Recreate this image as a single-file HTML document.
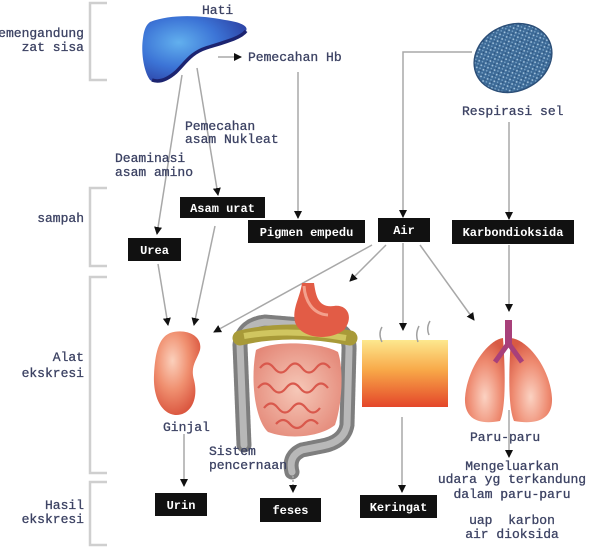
<!DOCTYPE html>
<html><head><meta charset="utf-8"><style>
html,body{margin:0;padding:0;background:#fff;}
svg{display:block;}
.t{font-family:"Liberation Mono",monospace;font-size:13px;fill:#3c4263;stroke:#3c4263;stroke-width:0.3;white-space:pre;}
.b{font-family:"Liberation Mono",monospace;font-size:12px;font-weight:bold;fill:#fff;text-anchor:middle;}
.ln{stroke:#a8a8a8;stroke-width:1.5;fill:none;}
.br{stroke:#cfcfcf;stroke-width:2.5;fill:none;}
</style></head><body>
<svg width="600" height="555" viewBox="0 0 600 555" xmlns="http://www.w3.org/2000/svg" xml:space="preserve">
<defs>
<marker id="a" markerWidth="8" markerHeight="8" refX="7" refY="4" orient="auto" markerUnits="userSpaceOnUse"><path d="M0,0 L8,4 L0,8z" fill="#111"/></marker>
<radialGradient id="liv" cx="0.35" cy="0.4" r="0.75"><stop offset="0" stop-color="#62b0ee"/><stop offset="0.5" stop-color="#3c74d6"/><stop offset="1" stop-color="#2a3a9c"/></radialGradient>
<pattern id="sp" width="5" height="5" patternUnits="userSpaceOnUse"><rect width="5" height="5" fill="#3d6b98"/><circle cx="1.2" cy="1.2" r="0.9" fill="#a4c4de"/><circle cx="3.8" cy="3.4" r="0.8" fill="#7fa8cc"/><circle cx="3.5" cy="0.8" r="0.5" fill="#1f3f66"/></pattern>
<radialGradient id="kid" cx="0.4" cy="0.35" r="0.7"><stop offset="0" stop-color="#fbd0bc"/><stop offset="0.5" stop-color="#f09070"/><stop offset="1" stop-color="#d8503a"/></radialGradient>
<linearGradient id="skin" x1="0" y1="0" x2="0" y2="1"><stop offset="0" stop-color="#fde88e"/><stop offset="0.45" stop-color="#f8a848"/><stop offset="1" stop-color="#e4462a"/></linearGradient>
<radialGradient id="lung" cx="0.5" cy="0.7" r="0.7"><stop offset="0" stop-color="#fbd2c2"/><stop offset="0.6" stop-color="#ee8a70"/><stop offset="1" stop-color="#d85a44"/></radialGradient>
<radialGradient id="si" cx="0.5" cy="0.5" r="0.6"><stop offset="0" stop-color="#f6c8b8"/><stop offset="1" stop-color="#e48878"/></radialGradient>
</defs>

<!-- brackets -->
<path class="br" d="M107,3 L90,3 L90,80 L107,80"/>
<path class="br" d="M107,188 L90,188 L90,266 L107,266"/>
<path class="br" d="M107,277 L90,277 L90,473 L107,473"/>
<path class="br" d="M107,482 L90,482 L90,545 L107,545"/>

<!-- left labels -->
<text class="t" x="84" y="37" text-anchor="end">emengandung</text>
<text class="t" x="84" y="51" text-anchor="end">zat sisa</text>
<text class="t" x="84" y="222" text-anchor="end">sampah</text>
<text class="t" x="84" y="361" text-anchor="end">Alat</text>
<text class="t" x="84" y="377" text-anchor="end">ekskresi</text>
<text class="t" x="84" y="509" text-anchor="end">Hasil</text>
<text class="t" x="84" y="523" text-anchor="end">ekskresi</text>

<!-- liver -->
<path d="M150,22 C170,14 200,15 225,20 C240,22 249,26 246,31 C241,38 225,42 206,48 C191,53 186,62 176,72 C166,82 156,84 150,80 C143,70 141,50 143,38 C144,30 146,25 150,22Z" fill="url(#liv)"/>
<path d="M152,80 C160,83 168,79 176,72 C186,62 191,53 206,48 C225,42 241,38 246,31" stroke="#1c2470" stroke-width="3.5" fill="none"/>
<text class="t" x="202" y="14">Hati</text>

<!-- cell -->
<ellipse cx="513" cy="58" rx="40" ry="33" transform="rotate(-25 513 58)" fill="url(#sp)" stroke="#2c4f78" stroke-width="1.5"/>
<text class="t" x="462" y="115">Respirasi sel</text>

<!-- connectors top -->
<line class="ln" x1="218" y1="57" x2="241" y2="57" marker-end="url(#a)"/>
<text class="t" x="248" y="61">Pemecahan Hb</text>
<line class="ln" x1="182" y1="75" x2="157" y2="234" marker-end="url(#a)"/>
<line class="ln" x1="197" y1="68" x2="218" y2="195" marker-end="url(#a)"/>
<line class="ln" x1="298" y1="72" x2="298" y2="218" marker-end="url(#a)"/>
<polyline class="ln" points="472,52 403,52 403,217" marker-end="url(#a)"/>
<line class="ln" x1="509" y1="122" x2="509" y2="219" marker-end="url(#a)"/>

<text class="t" x="185" y="130">Pemecahan</text>
<text class="t" x="185" y="143">asam Nukleat</text>
<text class="t" x="115" y="162">Deaminasi</text>
<text class="t" x="115" y="176">asam amino</text>

<!-- boxes -->
<rect x="180" y="197" width="85" height="21" fill="#111"/><text class="b" x="222.5" y="212">Asam urat</text>
<rect x="248" y="220" width="117" height="23" fill="#111"/><text class="b" x="306.5" y="236">Pigmen empedu</text>
<rect x="128" y="238" width="53" height="23" fill="#111"/><text class="b" x="154.5" y="254">Urea</text>
<rect x="378" y="218" width="52" height="24" fill="#111"/><text class="b" x="404" y="234">Air</text>
<rect x="452" y="220" width="122" height="24" fill="#111"/><text class="b" x="513" y="236">Karbondioksida</text>

<!-- middle connectors -->
<line class="ln" x1="158" y1="264" x2="168" y2="325" marker-end="url(#a)"/>
<line class="ln" x1="215" y1="226" x2="194" y2="325" marker-end="url(#a)"/>
<line class="ln" x1="372" y1="245" x2="214" y2="332" marker-end="url(#a)"/>
<line class="ln" x1="386" y1="245" x2="350" y2="281" marker-end="url(#a)"/>
<line class="ln" x1="403" y1="243" x2="403" y2="330" marker-end="url(#a)"/>
<line class="ln" x1="420" y1="245" x2="474" y2="320" marker-end="url(#a)"/>
<line class="ln" x1="509" y1="245" x2="509" y2="311" marker-end="url(#a)"/>

<!-- kidney -->
<path d="M170,333 C185,328 203,335 200,350 C197,360 190,366 194,380 C199,400 190,416 175,415 C160,413 153,395 154,375 C155,355 158,338 170,333Z" fill="url(#kid)"/>
<text class="t" x="163" y="431">Ginjal</text>

<!-- digestive system -->
<path d="M244,445 L240,345 Q242,325 265,322 L335,328 Q350,334 349,350 L347,425 Q344,442 322,446 L302,450 Q288,456 292,472" stroke="#7e7e7e" stroke-width="15" fill="none" stroke-linecap="round" stroke-dasharray="3 1.5"/>
<path d="M244,445 L240,345 Q242,325 265,322 L335,328 Q350,334 349,350 L347,425 Q344,442 322,446 L302,450 Q288,456 292,472" stroke="#b8b8b8" stroke-width="7" fill="none" stroke-linecap="round"/>
<path d="M256,350 C275,340 320,342 338,352 C344,370 342,405 335,425 C320,437 290,440 268,432 C255,420 250,380 256,350Z" fill="url(#si)"/>
<path d="M260,368 q7,-9 14,0 t14,0 t14,0 t14,0 t14,0 M258,388 q7,-9 14,0 t14,0 t14,0 t14,0 t14,0 M264,408 q7,-9 14,0 t14,0 t14,0 t14,0 M276,424 q7,-8 14,0 t14,0 t14,0" stroke="#d9584c" stroke-width="2.2" fill="none"/>
<path d="M240,338 Q290,326 350,338" stroke="#a89a38" stroke-width="15" fill="none" stroke-linecap="round"/>
<path d="M244,336 Q290,328 346,338" stroke="#d0c660" stroke-width="6" fill="none"/>
<path d="M302,283 L314,283 C316,296 318,308 334,306 C348,304 354,318 344,330 C328,342 300,338 295,322 C292,308 300,298 302,283Z" fill="#e25c46"/>
<path d="M304,286 C305,300 312,314 328,315" stroke="#f3a08c" stroke-width="3" fill="none"/>
<text class="t" x="209" y="455">Sistem</text>
<text class="t" x="209" y="469">pencernaan</text>

<!-- sweat/skin -->
<rect x="362" y="340" width="86" height="67" fill="url(#skin)"/>
<path d="M382,342 q-4,-8 0,-15 M418,342 q-3,-8 1,-16 M429,335 q-3,-7 1,-14" stroke="#a0a0a0" stroke-width="1.5" fill="none"/>

<!-- lungs -->
<path d="M503,338 C488,340 467,368 465,398 C464,420 480,425 500,421 C505,410 506,380 503,338Z" fill="url(#lung)"/>
<path d="M511,338 C528,340 550,368 552,398 C553,420 536,425 514,421 C509,410 508,380 511,338Z" fill="url(#lung)"/>
<rect x="505" y="320" width="7" height="26" fill="#a8407a"/>
<path d="M508,344 L495,362 M509,344 L522,362" stroke="#a8407a" stroke-width="5" fill="none"/>
<text class="t" x="470" y="441">Paru-paru</text>

<!-- bottom connectors -->
<line class="ln" x1="184" y1="434" x2="184" y2="486" marker-end="url(#a)"/>
<line class="ln" x1="293" y1="476" x2="293" y2="492" marker-end="url(#a)" stroke-dasharray="2 2"/>
<line class="ln" x1="402" y1="417" x2="402" y2="492" marker-end="url(#a)"/>
<line class="ln" x1="509" y1="410" x2="509" y2="457" marker-end="url(#a)"/>

<rect x="155" y="493" width="52" height="23" fill="#111"/><text class="b" x="181" y="509">Urin</text>
<rect x="260" y="498" width="61" height="24" fill="#111"/><text class="b" x="290.5" y="514">feses</text>
<rect x="360" y="495" width="77" height="23" fill="#111"/><text class="b" x="398.5" y="511">Keringat</text>

<text class="t" x="512" y="470" text-anchor="middle">Mengeluarkan</text>
<text class="t" x="512" y="483" text-anchor="middle">udara yg terkandung</text>
<text class="t" x="512" y="498" text-anchor="middle">dalam paru-paru</text>
<text class="t" x="512" y="524" text-anchor="middle">uap  karbon</text>
<text class="t" x="512" y="538" text-anchor="middle">air dioksida</text>
</svg>
</body></html>
